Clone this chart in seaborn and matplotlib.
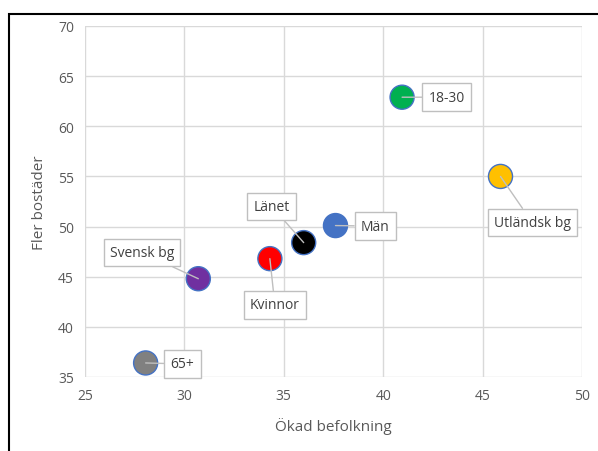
import pandas as pd
import matplotlib.pyplot as plt
import seaborn as sns
from matplotlib.patches import Rectangle

# Data
groups = ['18-30', 'Utländsk bg', 'Män', 'Länet', 'Kvinnor', 'Svensk bg', '65+']
okad_befolkning = [40.95, 45.9, 37.6, 36.0, 34.3, 30.7, 28.05]
fler_bostader = [62.9, 55.0, 50.1, 48.4, 46.8, 44.8, 36.4]
colors = ['#00B050', '#FFC000', '#4472C4', '#000000', '#FF0000', '#7030A0', '#808080']
# label box centres (data coords)
label_x = [43.2, 47.5, 39.6, 34.4, 34.55, 27.87, 29.9]
label_y = [62.9, 50.4, 50.05, 52.0, 42.2, 47.4, 36.3]

df = pd.DataFrame({'grupp': groups, 'x': okad_befolkning, 'y': fler_bostader})

sns.set_style('white')
plt.rcParams['font.family'] = ['Open Sans', 'DejaVu Sans']

fig = plt.figure(figsize=(5.98, 4.52), dpi=100)
ax = fig.add_axes([85 / 598, 1 - 378 / 452, 497 / 598, 351 / 452])

sns.scatterplot(data=df, x='x', y='y', hue='grupp', palette=dict(zip(groups, colors)),
                s=300, edgecolor='#4472C4', linewidth=1, legend=False, ax=ax, zorder=3)

for g, x, y, lx, ly in zip(groups, okad_befolkning, fler_bostader, label_x, label_y):
    ax.annotate(g, xy=(x, y), xytext=(lx, ly), ha='center', va='center',
                fontsize=10, color='#404040', zorder=4,
                bbox=dict(boxstyle='square,pad=0.45', fc='white', ec='#BFBFBF', lw=1),
                arrowprops=dict(arrowstyle='-', color='#BFBFBF', lw=1, shrinkA=0, shrinkB=0))

ax.set_xlim(25, 50)
ax.set_ylim(35, 70)
ax.set_xticks(range(25, 51, 5))
ax.set_yticks(range(35, 71, 5))
ax.grid(True, color='#D9D9D9', lw=1)
ax.set_axisbelow(True)
for s in ax.spines.values():
    s.set_visible(False)
ax.tick_params(length=0, labelsize=10, labelcolor='#595959', pad=8)
ax.set_xlabel('Ökad befolkning', fontsize=11, color='#595959', labelpad=10)
ax.set_ylabel('Fler bostäder', fontsize=11, color='#595959', labelpad=8)

# outer chart border
fig.patches.append(Rectangle((9 / 598, -0.1), 1.2, 1 - 15 / 452 + 0.1,
                             transform=fig.transFigure, fill=False, ec='black', lw=1.5))

fig.savefig('out.png', dpi=100)
